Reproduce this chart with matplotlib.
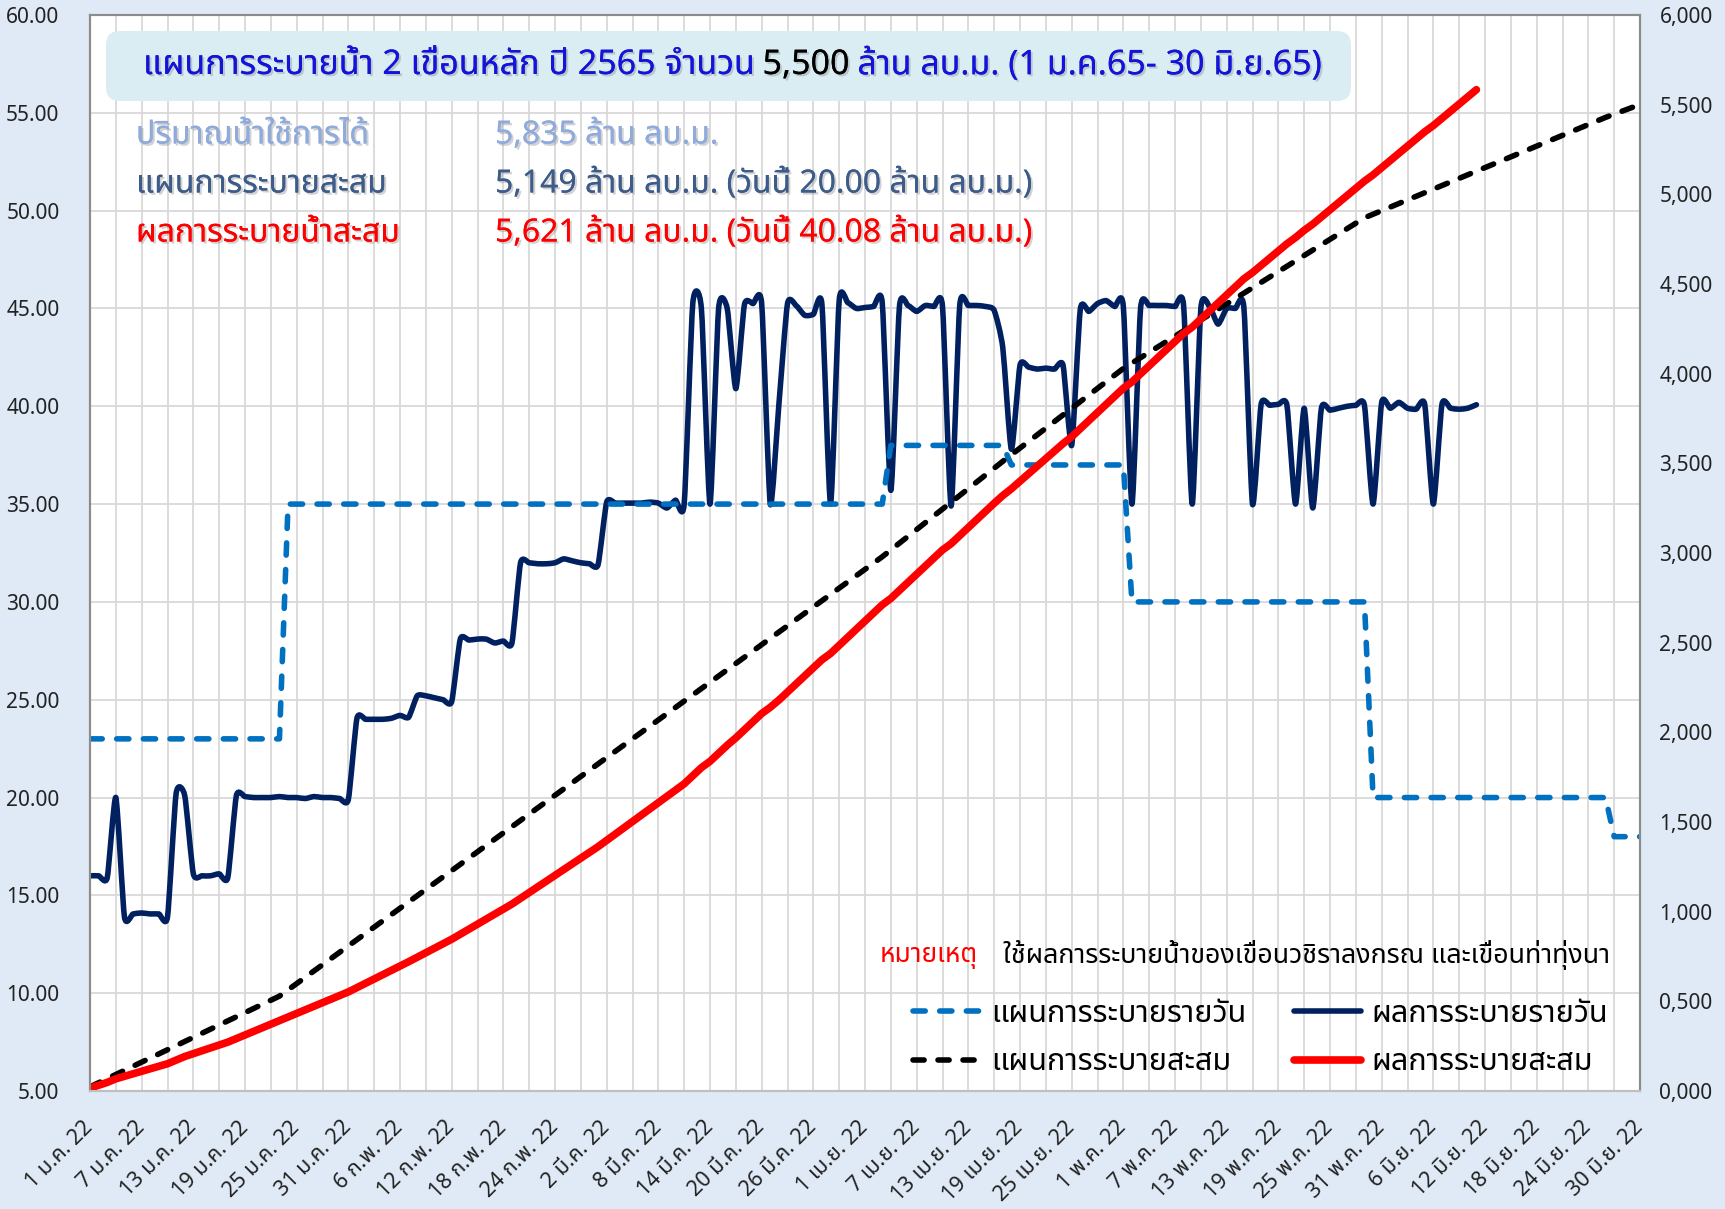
import numpy as np
import matplotlib
matplotlib.use("Agg")
import matplotlib.pyplot as plt
import matplotlib.patheffects as pe
from matplotlib import font_manager
from matplotlib.ft2font import FT2Font
from matplotlib.lines import Line2D
from matplotlib.path import Path
from matplotlib.patches import FancyBboxPatch, PathPatch
from matplotlib.transforms import IdentityTransform
from matplotlib.ticker import FuncFormatter, MultipleLocator

# daily release plan: level (mcm/day) and number of days at that level, from 1 Jan
plan_levels = [23, 35, 38, 37, 30, 20, 18]
plan_days = [23, 70, 14, 14, 28, 28, 4]

# actual daily release, mcm/day
act_jan = [16.0, 16.0, 15.9, 20.0, 13.9, 14.05, 14.1, 14.05, 14.05, 13.9, 20.2,
           20.1, 16.1, 16.0, 16.0, 16.1, 15.9, 20.1, 20.05, 20.0, 20.0, 20.0,
           20.05, 20.0, 20.0, 19.95, 20.05, 20.0, 20.0, 19.95, 19.9]
act_feb = [24.05, 24.0, 24.0, 24.0, 24.05, 24.2, 24.1, 25.2, 25.2, 25.1, 25.0,
           24.9, 28.1, 28.05, 28.1, 28.1, 27.9, 28.0, 27.9, 32.0, 32.0, 31.95,
           31.95, 32.0, 32.2, 32.1, 32.0, 31.95]
act_mar = [31.9, 35.1, 35.05, 35.05, 35.05, 35.05, 35.1, 35.05, 34.8, 35.2, 35.0,
           45.25, 45.0, 35.0, 45.0, 45.0, 40.9, 45.2, 45.25, 45.25, 35.0, 40.1,
           45.25, 45.15, 44.65, 44.7, 45.2, 35.0, 45.4, 45.3, 45.0]
act_apr = [45.05, 45.1, 45.3, 35.7, 45.1, 45.15, 44.85, 45.15, 45.1, 45.1, 34.9,
           45.15, 45.15, 45.15, 45.1, 44.9, 43.0, 37.8, 42.1, 42.0, 41.9, 41.95,
           41.9, 42.1, 38.0, 44.95, 44.85, 45.25, 45.4, 45.1]
act_may = [45.1, 35.0, 45.0, 45.15, 45.15, 45.15, 45.1, 45.15, 35.0, 45.0, 45.1,
           44.2, 45.0, 45.0, 45.05, 35.0, 40.1, 40.05, 40.1, 40.05, 35.0, 39.9,
           34.8, 39.9, 39.8, 39.9, 40.0, 40.05, 40.05, 35.0, 40.2]
act_jun = [39.9, 40.2, 39.9, 39.85, 40.1, 35.0, 40.1, 39.9, 39.85, 39.9, 40.08]

x_labels = ["1 ม.ค. 22", "7 ม.ค. 22", "13 ม.ค. 22", "19 ม.ค. 22", "25 ม.ค. 22",
            "31 ม.ค. 22", "6 ก.พ. 22", "12 ก.พ. 22", "18 ก.พ. 22", "24 ก.พ. 22",
            "2 มี.ค. 22", "8 มี.ค. 22", "14 มี.ค. 22", "20 มี.ค. 22", "26 มี.ค. 22",
            "1 เม.ย. 22", "7 เม.ย. 22", "13 เม.ย. 22", "19 เม.ย. 22", "25 เม.ย. 22",
            "1 พ.ค. 22", "7 พ.ค. 22", "13 พ.ค. 22", "19 พ.ค. 22", "25 พ.ค. 22",
            "31 พ.ค. 22", "6 มิ.ย. 22", "12 มิ.ย. 22", "18 มิ.ย. 22", "24 มิ.ย. 22",
            "30 มิ.ย. 22"]

series_names = ["แผนการระบายรายวัน", "แผนการระบายสะสม",
                "ผลการระบายรายวัน", "ผลการระบายสะสม"]


def thai_family():
    # first installed family that actually has Thai glyphs
    preferred = ["Tahoma", "Leelawadee UI", "Noto Sans Thai", "Noto Sans Thai UI",
                 "Sarabun", "Loma", "Garuda", "Norasi", "Kinnari"]
    found = []
    for f in font_manager.fontManager.ttflist:
        try:
            if 0x0E01 in FT2Font(f.fname).get_charmap():
                found.append(f.name)
        except Exception:
            continue
    for name in preferred:
        if name in found:
            return name
    return found[0] if found else "DejaVu Sans"


THAI = thai_family()
plt.rcParams["font.family"] = [THAI, "DejaVu Sans"]

W, H, DPI = 1725, 1209, 100
fig = plt.figure(figsize=(W / DPI, H / DPI), dpi=DPI, facecolor="#dfeaf6")
ax = fig.add_axes([90 / W, 1 - 1091 / H, (1640 - 90) / W, (1091 - 15) / H])
ax2 = ax.twinx()

days = np.arange(sum(plan_days))
plan_daily = np.repeat(plan_levels, plan_days)
act_daily = np.array(act_jan + act_feb + act_mar + act_apr + act_may + act_jun)
act_days = days[:len(act_daily)]

blue_dash = dict(color="#0070c0", lw=4.0, ls=(0, (2.2, 2.6)), dash_capstyle="round")
black_dash = dict(color="black", lw=4.0, ls=(0, (2.0, 2.5)), dash_capstyle="round")
navy = dict(color="#002060", lw=4.0, solid_capstyle="round")
red = dict(color="#ff0000", lw=5.5, solid_capstyle="round", solid_joinstyle="round")


def smooth_path(x, y, k=0.1):
    # bezier through every point, a softened "smoothed line"
    p = np.column_stack([x, y]).astype(float)
    ext = np.vstack([p[0], p, p[-1]])
    verts = [p[0]]
    for i in range(len(p) - 1):
        c1 = p[i] + (ext[i + 2] - ext[i]) * k
        c2 = p[i + 1] - (ext[i + 3] - ext[i + 1]) * k
        verts += [c1, c2, p[i + 1]]
    codes = [Path.MOVETO] + [Path.CURVE4] * (3 * (len(p) - 1))
    return Path(verts, codes)


ax.plot(days, plan_daily, **blue_dash)
ax.add_patch(PathPatch(smooth_path(act_days, act_daily), facecolor="none",
                       edgecolor=navy["color"], lw=navy["lw"],
                       capstyle="round", joinstyle="round"))
ax2.plot(days, np.cumsum(plan_daily), **black_dash)
ax2.plot(act_days, np.cumsum(act_daily), **red)

ax.set_facecolor("white")
ax.set_xlim(0, 180)
ax.set_ylim(5, 60)
ax2.set_ylim(0, 6000)

ax.set_xticks(np.arange(0, 181, 6))
ax.set_xticklabels(x_labels, rotation=45, ha="right", va="center",
                   rotation_mode="anchor", fontsize=15.5)
ax.xaxis.set_minor_locator(MultipleLocator(3))
ax.set_yticks(np.arange(5, 61, 5))
ax.yaxis.set_major_formatter(FuncFormatter(lambda v, p: f"{v:.2f}"))
ax2.set_yticks(np.arange(0, 6001, 500))
ax2.yaxis.set_major_formatter(
    FuncFormatter(lambda v, p: f"{int(v) // 1000},{int(v) % 1000:03d}"))

ax.tick_params(axis="x", which="both", length=0, pad=24, colors="#222222")
ax.tick_params(axis="y", length=0, pad=22, labelsize=15, colors="#222222")
ax2.tick_params(axis="y", length=0, pad=14, labelsize=15, colors="#222222")

ax.grid(True, which="both", axis="x", color="#d9d9d9", lw=1.3)
ax.grid(True, which="major", axis="y", color="#d9d9d9", lw=1.3)
ax.set_axisbelow(True)
for a in (ax, ax2):
    for s in a.spines.values():
        s.set_color("#8c8c8c")
        s.set_linewidth(1.5)
    a.spines["bottom"].set_color("#bfbfbf")

# heading box
fig.add_artist(FancyBboxPatch((106, H - 101), 1245, 70,
                              boxstyle="round,pad=0,rounding_size=14",
                              transform=IdentityTransform(),
                              facecolor="#daedf3", edgecolor="none"))


def text_runs(x, y, runs, size, gap=8, shadow=True, weight="normal"):
    # pieces of differently coloured text on one line; x, y in pixels from top-left
    r = fig.canvas.get_renderer()
    fx = [pe.withSimplePatchShadow(offset=(1.5, -1.5), shadow_rgbFace="#808080",
                                   alpha=0.35), pe.Normal()] if shadow else []
    for s, color in runs:
        t = fig.text(x / W, 1 - y / H, s, color=color, fontsize=size, weight=weight,
                     va="center", ha="left", path_effects=fx)
        x = t.get_window_extent(r).x1 + gap


title_blue = "#1414d8"
text_runs(143, 65, [("แผนการระบายน้ำ 2 เขื่อนหลัก ปี 2565 จำนวน", title_blue),
                    ("5,500", "black"),
                    ("ล้าน ลบ.ม. (1 ม.ค.65- 30 มิ.ย.65)", title_blue)], 24.5,
          weight="semibold")

info = dict(size=23, weight="semibold")
text_runs(136, 135, [("ปริมาณน้ำใช้การได้", "#8faadc")], **info)
text_runs(495, 135, [("5,835 ล้าน ลบ.ม.", "#8faadc")], **info)
text_runs(136, 184, [("แผนการระบายสะสม", "#3e5c8a")], **info)
text_runs(495, 184, [("5,149 ล้าน ลบ.ม. (วันนี้ 20.00 ล้าน ลบ.ม.)", "#3e5c8a")], **info)
text_runs(136, 233, [("ผลการระบายน้ำสะสม", "#ff0000")], **info)
text_runs(495, 233, [("5,621 ล้าน ลบ.ม. (วันนี้ 40.08 ล้าน ลบ.ม.)", "#ff0000")], **info)

text_runs(880, 955, [("หมายเหตุ", "#ff0000")], 19, shadow=False)
text_runs(1003, 955, [("ใช้ผลการระบายน้ำของเขื่อนวชิราลงกรณ และเขื่อนท่าทุ่งนา", "black")],
          19.3, shadow=False)

handles = [Line2D([], [], **blue_dash), Line2D([], [], **black_dash),
           Line2D([], [], **navy), Line2D([], [], **red)]
fig.legend(handles, series_names, ncol=2, loc="center left",
           bbox_to_anchor=(913 / W, 1 - 1038 / H),
           frameon=False, fontsize=22, handlelength=2.2, handletextpad=0.35,
           columnspacing=1.55, labelspacing=0.62, borderpad=0, borderaxespad=0)

fig.savefig("out.png", dpi=DPI, facecolor=fig.get_facecolor())
